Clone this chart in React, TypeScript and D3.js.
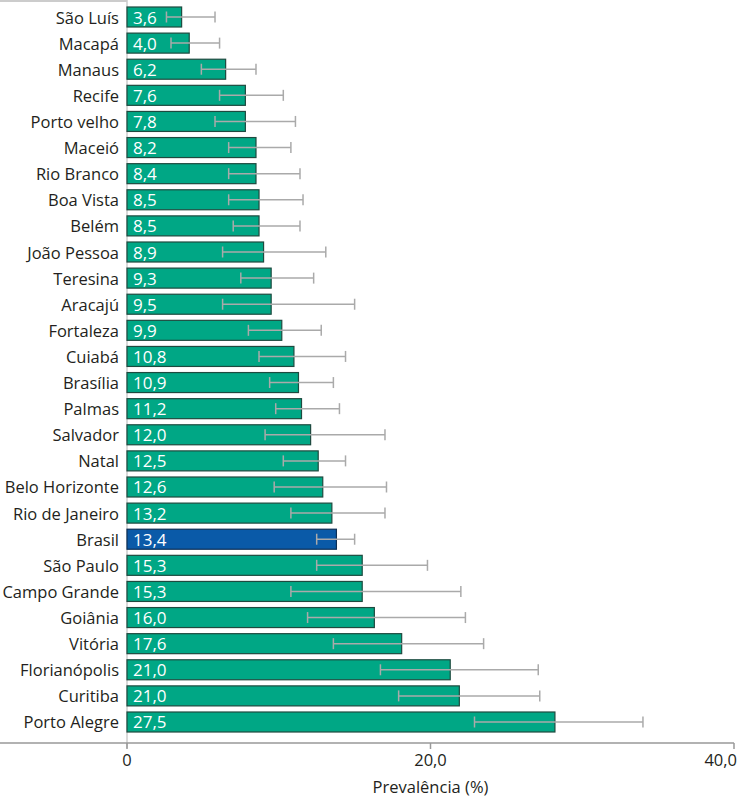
import React from "react";
import * as d3 from "d3";

const cities = ["São Luís","Macapá","Manaus","Recife","Porto velho","Maceió","Rio Branco","Boa Vista","Belém","João Pessoa","Teresina","Aracajú","Fortaleza","Cuiabá","Brasília","Palmas","Salvador","Natal","Belo Horizonte","Rio de Janeiro","Brasil","São Paulo","Campo Grande","Goiânia","Vitória","Florianópolis","Curitiba","Porto Alegre"];
const valueLabels = ["3,6","4,0","6,2","7,6","7,8","8,2","8,4","8,5","8,5","8,9","9,3","9,5","9,9","10,8","10,9","11,2","12,0","12,5","12,6","13,2","13,4","15,3","15,3","16,0","17,6","21,0","21,0","27,5"];
const barValues = [3.6,4.1,6.5,7.8,7.8,8.5,8.5,8.7,8.7,9.0,9.5,9.5,10.2,11.0,11.3,11.5,12.1,12.6,12.9,13.5,13.8,15.5,15.5,16.3,18.1,21.3,21.9,28.2];
const lowerCI = [2.6,2.9,4.9,6.1,5.8,6.7,6.7,6.7,7.0,6.3,7.5,6.3,8.0,8.7,9.4,9.8,9.1,10.3,9.7,10.8,12.5,12.5,10.8,11.9,13.6,16.7,17.9,22.9];
const upperCI = [5.8,6.1,8.5,10.3,11.1,10.8,11.4,11.6,11.4,13.1,12.3,15.0,12.8,14.4,13.6,14.0,17.0,14.4,17.1,17.0,15.0,19.8,22.0,22.3,23.5,27.1,27.2,34.0];
const xTicks = [0, 20, 40];
const xTickLabels = ["0", "20,0", "40,0"];
const axisTitle = "Prevalência (%)";

const FONT = "'Open Sans', sans-serif";

export default function App() {
  const W = 750, H = 799;
  const x = d3.scaleLinear().domain([0, 40]).range([127, 734]);
  const y = d3.scaleBand<string>().domain(cities).range([7, 732]).paddingInner(0.234).paddingOuter(0);
  const bw = y.bandwidth();
  const axisY = 743;
  return (
    <svg width={W} height={H} style={{ position: "absolute", left: 0, top: 0 }}>
      <line x1={0} x2={x(0)} y1={1} y2={1} stroke="#bbb" strokeWidth={1.5} />
      <line x1={x(0)} x2={x(0)} y1={0} y2={axisY + 5} stroke="#ccc" strokeWidth={1.5} />
      {cities.map((c, i) => {
        const yy = y(c)!;
        const mid = yy + bw / 2;
        const isBr = c === "Brasil";
        return (
          <g key={c}>
            <text x={119} y={mid} textAnchor="end" dominantBaseline="central" fontFamily={FONT} fontSize={16.5} fill="#231f20">{c}</text>
            <rect x={x(0)} y={yy} width={x(barValues[i]) - x(0)} height={bw}
              fill={isBr ? "#0a5aa8" : "#00a785"} stroke={isBr ? "#0d2f55" : "#1e4a3f"} strokeWidth={1.2} />
            <text x={x(0) + 6} y={mid} dominantBaseline="central" fontFamily={FONT} fontSize={17} fill="#fff">{valueLabels[i]}</text>
            <line x1={x(lowerCI[i])} x2={x(upperCI[i])} y1={mid} y2={mid} stroke="#aaa" strokeWidth={1.5} />
            <line x1={x(lowerCI[i])} x2={x(lowerCI[i])} y1={mid - 5.5} y2={mid + 5.5} stroke="#aaa" strokeWidth={1.5} />
            <line x1={x(upperCI[i])} x2={x(upperCI[i])} y1={mid - 5.5} y2={mid + 5.5} stroke="#aaa" strokeWidth={1.5} />
          </g>
        );
      })}
      <line x1={0} x2={x(40)} y1={axisY} y2={axisY} stroke="#999" strokeWidth={1.5} />
      {xTicks.map((t, i) => (
        <g key={t}>
          <line x1={x(t)} x2={x(t)} y1={axisY} y2={axisY + 6} stroke="#999" strokeWidth={1.5} />
          <text x={x(t)} y={759} textAnchor={i === 2 ? "end" : "middle"} dx={i === 2 ? 3 : 0} dominantBaseline="central" fontFamily={FONT} fontSize={16.5} fill="#231f20">{xTickLabels[i]}</text>
        </g>
      ))}
      <text x={x(20)} y={786} textAnchor="middle" dominantBaseline="central" fontFamily={FONT} fontSize={16.5} fill="#231f20">{axisTitle}</text>
    </svg>
  );
}
